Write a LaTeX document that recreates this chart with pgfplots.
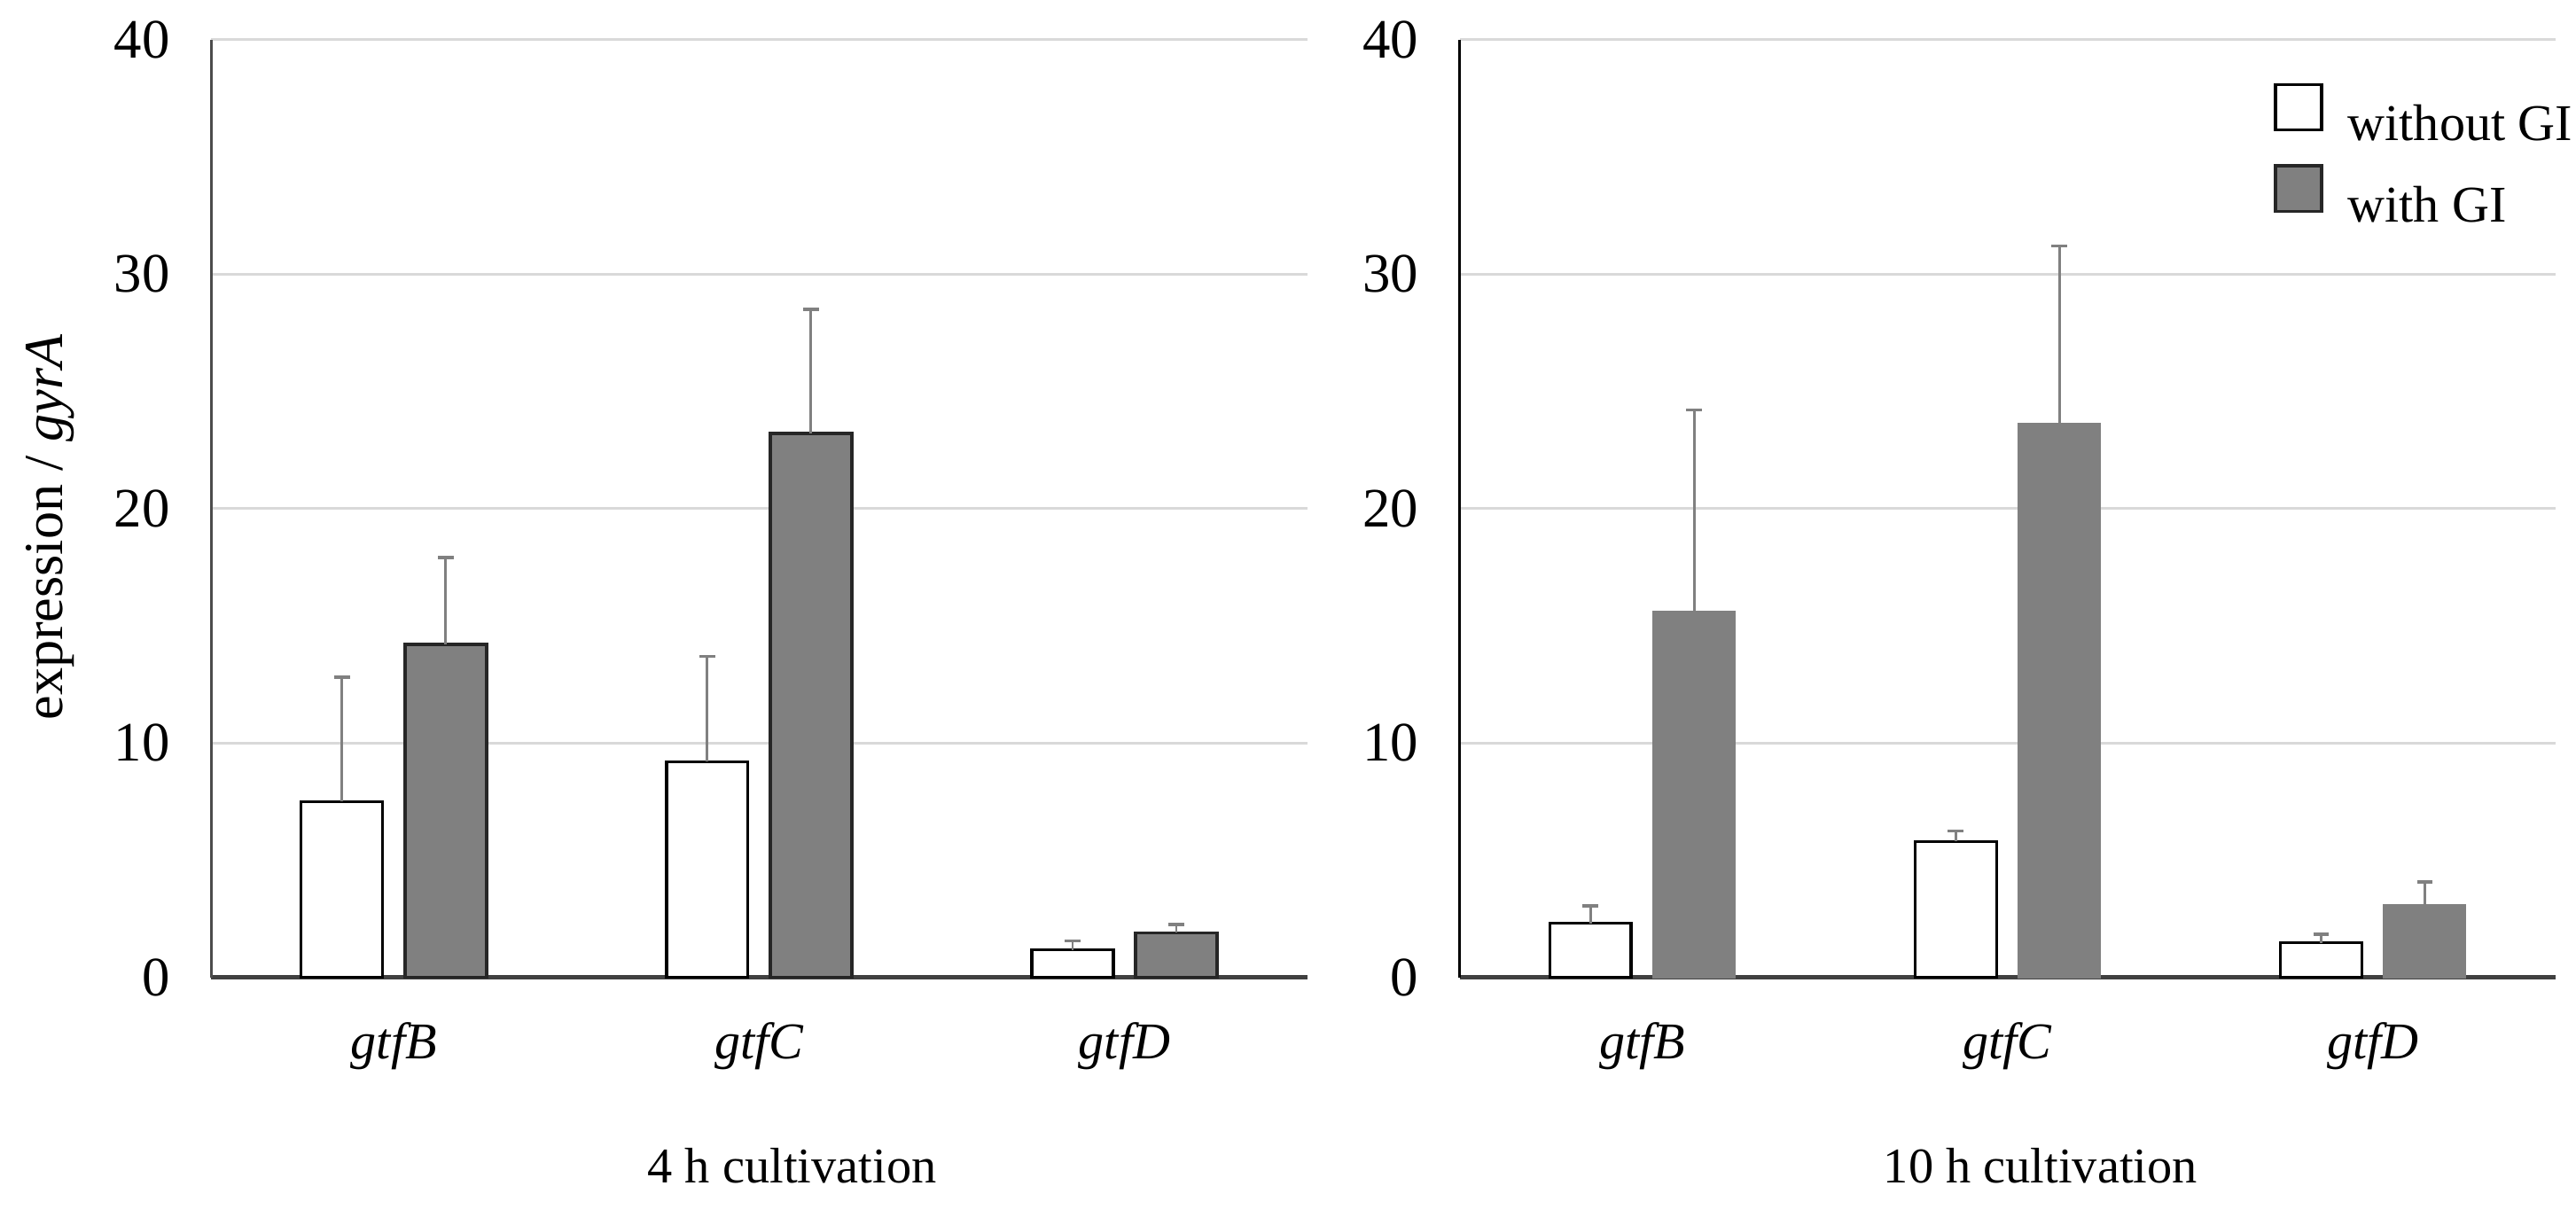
\documentclass[border=0pt]{standalone}
\usepackage{fontspec}
\setmainfont{Liberation Serif}
\usepackage{pgfplots}
\pgfplotsset{compat=1.18}

\definecolor{barfill}{RGB}{128,128,128}
\definecolor{gridc}{RGB}{217,217,217}
\definecolor{errc}{RGB}{128,128,128}

\pgfplotsset{
  panel/.style={
    scale only axis, width=212.7pt, height=182pt,
    xmin=-0.5, xmax=2.5, ymin=0, ymax=40,
    ytick={0,10,...,40}, xtick={0,1,2},
    xticklabels={\textit{gtfB},\textit{gtfC},\textit{gtfD}},
    axis lines=left, axis line style={-},
    x axis line style={black!75, line width=0.8pt},
    major tick length=0pt,
    ymajorgrids, major grid style={gridc, line width=0.55pt},
    /pgf/number format/assume math mode=true,
    yticklabel style={font=\fontsize{10.8}{12}\selectfont, xshift=-4.5pt},
    xticklabel style={font=\fontsize{10}{12}\selectfont, yshift=-5.3pt},
    xlabel style={at={(axis description cs:0.53,-0.219)}, anchor=base, font=\fontsize{9.7}{12}\selectfont},
    clip=false,
  },
  % error bars are drawn by their own plots, at the x of each bar
  errs/.style={draw=none, mark=none, forget plot,
    error bars/.cd, y dir=plus, y explicit,
    error bar style={draw=errc, line width=0.5pt},
    error mark options={rotate=90, mark size=1.5pt, draw=errc, line width=0.6pt}},
}

\begin{document}
\begin{tikzpicture}
\path[use as bounding box] (-41pt,-46.5pt) rectangle (459pt,189.7pt);

% 4 h
\begin{axis}[panel, at={(0pt,0pt)}, anchor=south west,
  y axis line style={black!70, line width=0.6pt},
  xlabel={4 h cultivation},
  ylabel={expression / \textit{gyrA}},
  ylabel style={at={(axis description cs:-0.147,0.48)}, rotate=0, anchor=center, font=\fontsize{10.7}{12}\selectfont}]
\addplot[ybar, bar width=0.223, bar shift=-0.142, fill=white, draw=black, line width=0.55pt]
  coordinates {(0,7.5) (1,9.2) (2,1.17)};
\addplot[ybar, bar width=0.223, bar shift=0.142, fill=barfill, draw=black!85, line width=0.6pt]
  coordinates {(0,14.2) (1,23.2) (2,1.9)};
\addplot[errs] coordinates {(-0.142,7.5) +- (0,5.3) (0.858,9.2) +- (0,4.5) (1.858,1.17) +- (0,0.38)};
\addplot[errs] coordinates {(0.142,14.2) +- (0,3.7) (1.142,23.2) +- (0,5.3) (2.142,1.9) +- (0,0.35)};
\end{axis}

% 10 h
\begin{axis}[panel, at={(242.3pt,0pt)}, anchor=south west,
  y axis line style={black, line width=0.45pt},
  xlabel={10 h cultivation},
  legend cell align=left,
  legend style={at={(axis description cs:0.742,0.955)}, anchor=north west,
    draw=none, fill=none, inner sep=0pt, row sep=3.2pt, column sep=0pt,
    nodes={inner sep=0pt, font=\fontsize{10}{12}\selectfont},
    /tikz/every odd column/.append style={column sep=4.8pt}},
  legend image code/.code={\draw[#1, line width=0.6pt] (0pt,-0.7pt) rectangle (9pt,8.1pt);}]
\addplot[ybar, bar width=0.223, bar shift=-0.142, fill=white, draw=black, line width=0.55pt, forget plot]
  coordinates {(0,2.3) (1,5.8) (2,1.47)};
\addplot[ybar, bar width=0.223, bar shift=0.142, fill=barfill, draw=barfill, line width=0.4pt, forget plot]
  coordinates {(0,15.6) (1,23.6) (2,3.08)};
\addplot[errs] coordinates {(-0.142,2.3) +- (0,0.74) (0.858,5.8) +- (0,0.45) (1.858,1.47) +- (0,0.37)};
\addplot[errs] coordinates {(0.142,15.6) +- (0,8.6) (1.142,23.6) +- (0,7.6) (2.142,3.08) +- (0,0.98)};
\addlegendimage{fill=white, draw=black}
\addlegendentry{without GI}
\addlegendimage{fill=barfill, draw=black!85}
\addlegendentry{with GI}
\end{axis}
\end{tikzpicture}
\end{document}
